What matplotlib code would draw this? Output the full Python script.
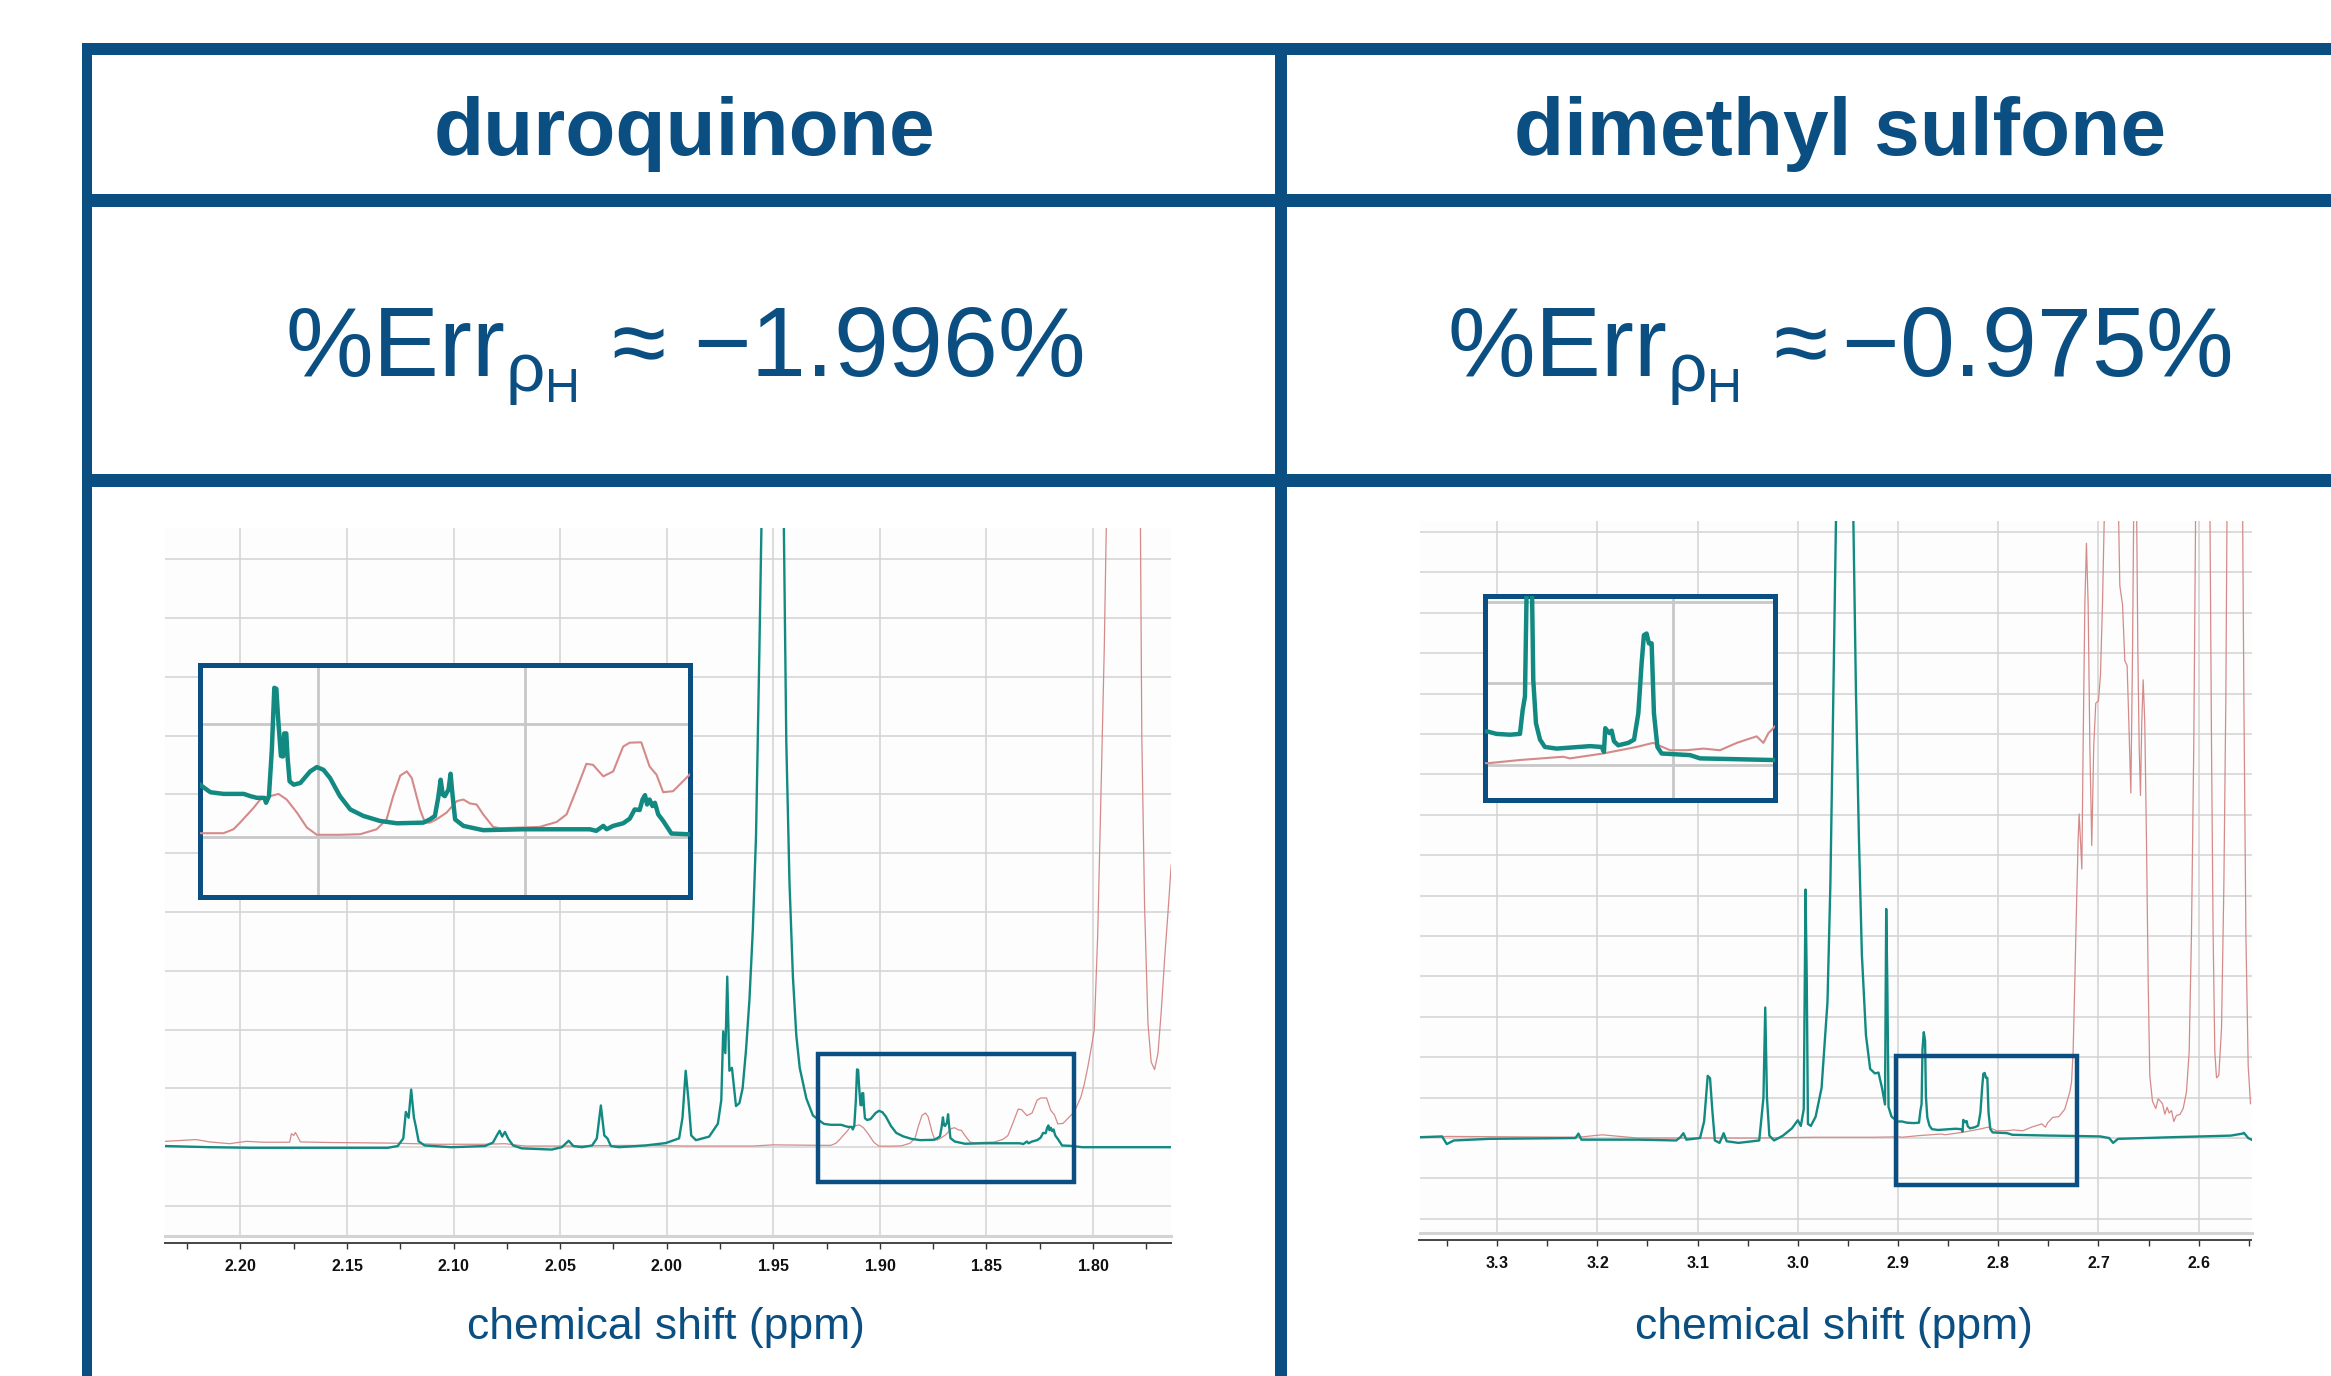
import matplotlib
matplotlib.use('Agg')
import matplotlib.pyplot as plt
from matplotlib.patches import Rectangle
from matplotlib.ticker import MultipleLocator, FormatStrFormatter

# ---------------- data ----------------
titles = ['duroquinone', 'dimethyl sulfone']
errors = [r'%Err$_{\rho_{\mathrm{H}}}$ ≈ −1.996%', r'%Err$_{\rho_{\mathrm{H}}}$ ≈$\,$−0.975%']
xlabel = 'chemical shift (ppm)'

# duroquinone panel: teal = sample spectrum, red = reference spectrum
duro_teal_ppm = [2.2354, 2.2141, 2.1953, 2.1309, 2.1262, 2.1236, 2.1224, 2.1211, 2.1199, 2.1186,
                 2.1177, 2.1164, 2.1136, 2.1010, 2.0853, 2.0815, 2.0797, 2.0784, 2.0772, 2.0759,
                 2.0743, 2.0721, 2.0680, 2.0539, 2.0492, 2.0460, 2.0438, 2.0398, 2.0350, 2.0328,
                 2.0309, 2.0293, 2.0278, 2.0262, 2.0225, 2.0099, 2.0005, 1.9942, 1.9926, 1.9911,
                 1.9898, 1.9885, 1.9863, 1.9801, 1.9760, 1.9744, 1.9735, 1.9725, 1.9716, 1.9706,
                 1.9694, 1.9675, 1.9659, 1.9644, 1.9628, 1.9612, 1.9596, 1.9581, 1.9565, 1.9549,
                 1.9502, 1.9455, 1.9439, 1.9424, 1.9408, 1.9392, 1.9376, 1.9345, 1.9314,
                 1.9282, 1.9262, 1.9230, 1.9181, 1.9165, 1.9149, 1.9131, 1.9127, 1.9120, 1.9113,
                 1.9107, 1.9102, 1.9098, 1.9091, 1.9086, 1.9083, 1.9078, 1.9075, 1.9070, 1.9060,
                 1.9044, 1.9020, 1.9004, 1.8988, 1.8972, 1.8948, 1.8923, 1.8891, 1.8851, 1.8810,
                 1.8746, 1.8730, 1.8718, 1.8710, 1.8704, 1.8699, 1.8694, 1.8685, 1.8680, 1.8675,
                 1.8669, 1.8649, 1.8601, 1.8504, 1.8343, 1.8327, 1.8310, 1.8302, 1.8286, 1.8262,
                 1.8246, 1.8234, 1.8222, 1.8215, 1.8209, 1.8204, 1.8198, 1.8191, 1.8185, 1.8177,
                 1.8165, 1.8145, 1.8105, 1.8050, 1.7634]
duro_teal_int = [0.02, 0.0, -0.01, -0.01, 0.02, 0.15, 0.60, 0.50, 0.98, 0.50,
                 0.35, 0.10, 0.03, 0.0, 0.02, 0.08, 0.20, 0.28, 0.18, 0.26,
                 0.14, 0.03, -0.02, -0.04, 0.0, 0.11, 0.02, 0.0, 0.03, 0.15,
                 0.71, 0.20, 0.15, 0.02, 0.0, 0.03, 0.07, 0.15, 0.50, 1.30,
                 0.80, 0.20, 0.12, 0.18, 0.40, 0.80, 1.97, 1.60, 2.90, 1.30,
                 1.35, 0.70, 0.75, 1.0, 1.65, 2.5, 3.7, 5.3, 8.5, 12.0,
                 45.0, 12.0, 6.9, 4.5, 2.9, 1.9, 1.35, 0.83, 0.54,
                 0.449, 0.396, 0.381, 0.381, 0.361, 0.346, 0.346, 0.302, 0.361, 0.771,
                 1.323, 1.314, 1.065, 0.718, 0.713, 0.918, 0.918, 0.713, 0.493, 0.463,
                 0.478, 0.581, 0.619, 0.595, 0.522, 0.361, 0.243, 0.185, 0.141, 0.120,
                 0.126, 0.155, 0.185, 0.346, 0.507, 0.375, 0.361, 0.419, 0.560, 0.361,
                 0.155, 0.097, 0.059, 0.067, 0.067, 0.053, 0.097, 0.067, 0.097, 0.120,
                 0.161, 0.243, 0.238, 0.331, 0.370, 0.287, 0.331, 0.273, 0.302, 0.199,
                 0.141, 0.029, 0.023, 0.0, 0.0]
duro_red_ppm = [2.2351, 2.2207, 2.2145, 2.2051, 2.1972, 2.1894, 2.1769, 2.1761, 2.1750, 2.1742,
                2.1733, 2.1719, 2.1581, 2.1300, 2.1073, 2.0853, 2.0759, 2.0665, 2.0476, 2.0225,
                2.0068, 1.9911, 1.9596, 1.9502, 1.9282, 1.9230, 1.9206, 1.9190, 1.9173, 1.9157,
                1.9141, 1.9117, 1.9097, 1.9077, 1.9052, 1.9028, 1.9004, 1.8948, 1.8899, 1.8859,
                1.8835, 1.8819, 1.8802, 1.8786, 1.8774, 1.8754, 1.8742, 1.8730, 1.8714, 1.8690,
                1.8665, 1.8649, 1.8633, 1.8617, 1.8601, 1.8577, 1.8560, 1.8464, 1.8423, 1.8399,
                1.8375, 1.8351, 1.8335, 1.8310, 1.8286, 1.8262, 1.8246, 1.8218, 1.8198, 1.8181,
                1.8165, 1.8141, 1.8105, 1.8088, 1.8057, 1.8041, 1.8025, 1.8010, 1.7994, 1.7978,
                1.7962, 1.7947, 1.7931, 1.7855, 1.7780, 1.7771, 1.7758, 1.7742, 1.7727, 1.7711,
                1.7695, 1.7680, 1.7664, 1.7648, 1.7633]
duro_red_int = [0.10, 0.13, 0.09, 0.06, 0.10, 0.085, 0.085, 0.23, 0.20, 0.25,
                0.19, 0.09, 0.08, 0.07, 0.05, 0.05, 0.06, 0.02, 0.02, 0.03,
                0.03, 0.02, 0.02, 0.04, 0.032, 0.032, 0.067, 0.126, 0.194, 0.258,
                0.331, 0.361, 0.381, 0.331, 0.214, 0.082, 0.018, 0.018, 0.023, 0.067,
                0.155, 0.361, 0.543, 0.581, 0.522, 0.243, 0.126, 0.126, 0.155, 0.214,
                0.317, 0.331, 0.296, 0.287, 0.199, 0.088, 0.076, 0.088, 0.132, 0.199,
                0.419, 0.648, 0.639, 0.537, 0.581, 0.801, 0.836, 0.839, 0.625, 0.551,
                0.396, 0.405, 0.537, 0.60, 0.85, 1.07, 1.35, 1.65, 2.0, 3.6,
                6.1, 8.5, 12.0, 40.0, 12.0, 7.0, 4.1, 2.1, 1.45, 1.32,
                1.6, 2.3, 3.2, 4.0, 4.8]

# dimethyl sulfone panel
dms_teal_ppm = [3.3775, 3.3550, 3.3503, 3.3432, 3.3077, 3.2219, 3.2189, 3.2160, 3.1598, 3.1213,
                3.1172, 3.1142, 3.1112, 3.0976, 3.0935, 3.0899, 3.0876, 3.0852, 3.0828, 3.0781,
                3.0740, 3.0710, 3.0592, 3.0385, 3.0343, 3.0325, 3.0308, 3.0284, 3.0237, 3.0148,
                3.0059, 3.0000, 2.9970, 2.9941, 2.9923, 2.9911, 2.9899, 2.9870, 2.9822, 2.9763,
                2.9704, 2.9675, 2.9645, 2.9615, 2.9527, 2.9450, 2.9420, 2.9391, 2.9361, 2.9320,
                2.9278, 2.9231, 2.9195, 2.9160, 2.9130, 2.9118, 2.9107, 2.9095, 2.9065, 2.9006,
                2.8960, 2.8912, 2.8843, 2.8791, 2.8777, 2.8765, 2.8756, 2.8743, 2.8730, 2.8722,
                2.8708, 2.8687, 2.8662, 2.8601, 2.8428, 2.8368, 2.8356, 2.8349, 2.8339, 2.8328,
                2.8316, 2.8304, 2.8282, 2.8230, 2.8200, 2.8178, 2.8161, 2.8149, 2.8135, 2.8123,
                2.8109, 2.8097, 2.8079, 2.8057, 2.7910, 2.7858, 2.7668, 2.7482, 2.7456, 2.6982,
                2.6893, 2.6854, 2.6805, 2.6272, 2.5680, 2.5562, 2.5549, 2.5506, 2.5473]
dms_teal_int = [0.02, 0.04, -0.15, -0.06, -0.02, 0.0, 0.11, -0.04, -0.04, -0.06,
                0.02, 0.12, -0.04, 0.0, 0.41, 1.54, 1.48, 0.65, -0.06, -0.12,
                0.12, -0.08, -0.12, -0.06, 1.0, 3.23, 1.0, 0.06, -0.06, 0.06,
                0.24, 0.44, 0.30, 0.71, 6.15, 3.96, 0.35, 0.30, 0.53, 1.24,
                3.37, 6.3, 11.05, 16.0, 80.0, 16.0, 11.05, 7.5, 4.55, 2.54,
                1.71, 1.60, 1.62, 1.24, 0.83, 5.67, 3.84, 0.77, 0.53, 0.41,
                0.41, 0.38, 0.37, 0.38, 0.67, 0.84, 2.20, 2.62, 2.40, 1.04,
                0.51, 0.31, 0.22, 0.20, 0.23, 0.22, 0.16, 0.45, 0.42, 0.39,
                0.42, 0.29, 0.24, 0.27, 0.31, 0.63, 1.24, 1.59, 1.61, 1.49,
                1.49, 0.63, 0.22, 0.14, 0.12, 0.08, 0.07, 0.06, 0.06, 0.04,
                0.0, -0.12, -0.02, 0.02, 0.06, 0.11, 0.13, 0.0, -0.04]
dms_red_ppm = [3.3775, 3.3491, 3.2189, 3.1953, 3.1598, 3.1006, 3.0414, 2.9822, 2.9231, 2.8994,
               2.8960, 2.8791, 2.8567, 2.8532, 2.8360, 2.8187, 2.8101, 2.8014, 2.7928, 2.7841,
               2.7755, 2.7668, 2.7617, 2.7565, 2.7530, 2.7504, 2.7487, 2.7456, 2.7396, 2.7337,
               2.7286, 2.7269, 2.7253, 2.7236, 2.7220, 2.7203, 2.7193, 2.7180, 2.7166, 2.7153,
               2.7136, 2.7120, 2.7103, 2.7086, 2.7067, 2.7047, 2.7027, 2.7000, 2.6980, 2.6960,
               2.6937, 2.6870, 2.6804, 2.6787, 2.6760, 2.6737, 2.6714, 2.6697, 2.6677, 2.6660,
               2.6647, 2.6634, 2.6621, 2.6607, 2.6594, 2.6581, 2.6568, 2.6554, 2.6538, 2.6521,
               2.6504, 2.6488, 2.6461, 2.6428, 2.6405, 2.6381, 2.6361, 2.6338, 2.6315, 2.6295,
               2.6271, 2.6248, 2.6222, 2.6188, 2.6155, 2.6122, 2.6095, 2.6072, 2.6049, 2.6029,
               2.5955, 2.5889, 2.5872, 2.5856, 2.5839, 2.5822, 2.5799, 2.5772, 2.5749, 2.5729,
               2.5716, 2.5639, 2.5563, 2.5549, 2.5529, 2.5506, 2.5483]
dms_red_int = [0.02, 0.04, 0.02, 0.08, 0.0, 0.0, 0.0, 0.02, 0.02, 0.03,
               0.02, 0.06, 0.10, 0.08, 0.14, 0.22, 0.27, 0.18, 0.18, 0.20,
               0.18, 0.27, 0.31, 0.35, 0.27, 0.39, 0.43, 0.51, 0.53, 0.71,
               1.14, 1.38, 2.13, 3.88, 5.63, 7.38, 8.02, 7.38, 6.66, 9.71,
               13.2, 14.72, 13.2, 9.71, 7.24, 9.71, 10.76, 10.82, 11.46, 13.2,
               16.0, 40.0, 16.0, 13.67, 13.2, 11.81, 11.69, 10.29, 8.54, 12.04,
               16.0, 30.0, 16.0, 12.04, 9.71, 8.48, 10.29, 11.34, 10.29, 7.38,
               3.88, 1.55, 0.91, 0.73, 0.97, 0.91, 0.85, 0.59, 0.76, 0.62,
               0.68, 0.41, 0.56, 0.58, 0.73, 1.14, 2.13, 5.05, 9.71, 16.0,
               40.0, 16.0, 9.71, 5.05, 2.13, 1.49, 1.55, 2.72, 6.21, 10.87,
               16.0, 40.0, 16.0, 10.87, 5.05, 1.78, 0.85]

# axis ranges, ticks, zoom windows
duro_xlim, duro_ylim = (2.2354, 1.7634), (-1.51, 10.53)
dms_xlim, dms_ylim = (3.3775, 2.5473), (-2.35, 15.27)
duro_ticks = (0.05, 0.025, r'$\mathbf{%.2f}$')
dms_ticks = (0.1, 0.05, r'$\mathbf{%.1f}$')
duro_box = (1.929, 1.809, -0.60, 1.59)
dms_box = (2.9017, 2.7213, -1.16, 2.03)
duro_inset_lim = ((1.9287, 1.8100), (-0.53, 1.53))
dms_inset_lim = ((2.8972, 2.7470), (-0.43, 2.07))
duro_inset_grid = ([1.90, 1.85], [0, 1])
dms_inset_grid = ([2.8], [0, 1, 2])

# ---------------- style ----------------
plt.rcParams['font.family'] = ['Liberation Sans', 'DejaVu Sans']
plt.rcParams['mathtext.fontset'] = 'custom'
plt.rcParams['mathtext.rm'] = 'Liberation Sans'
plt.rcParams['mathtext.it'] = 'Liberation Sans:italic'
plt.rcParams['mathtext.bf'] = 'Liberation Sans:bold'
plt.rcParams['mathtext.default'] = 'rm'

BLUE = '#0b4f82'
TEAL = '#128a82'
RED = '#d58a8a'
GRID = '#d3d3d3'

W, H = 2331, 1376
fig = plt.figure(figsize=(W / 100, H / 100), dpi=100)


def rect(x0, y0, x1, y1):
    # pixel box (origin top-left) -> figure fraction [l, b, w, h]
    return [x0 / W, 1 - y1 / H, (x1 - x0) / W, (y1 - y0) / H]


def bar(x0, y0, x1, y1):
    l, b, w, h = rect(x0, y0, x1, y1)
    fig.add_artist(Rectangle((l, b), w, h, transform=fig.transFigure,
                             color=BLUE, lw=0, zorder=10))


# table frame
bar(82, 43, W, 55)
bar(82, 194, W, 207)
bar(82, 474, W, 487)
bar(82, 43, 92, H)
bar(1275, 43, 1287, H)


def panel(pos, t_ppm, t_int, r_ppm, r_int, xlim, ylim, ticks, zbox):
    ax = fig.add_axes(pos)
    ax.set_facecolor('#fdfdfd')
    ax.plot(r_ppm, r_int, color=RED, lw=0.9, zorder=3)
    ax.plot(t_ppm, t_int, color=TEAL, lw=1.7, zorder=4)
    ax.set_xlim(xlim)
    ax.set_ylim(ylim)
    major, minor, fmt = ticks
    ax.xaxis.set_major_locator(MultipleLocator(major))
    ax.xaxis.set_minor_locator(MultipleLocator(minor))
    ax.xaxis.set_major_formatter(FormatStrFormatter(fmt))
    ax.yaxis.set_major_locator(MultipleLocator(1))
    ax.tick_params(axis='y', length=0, labelleft=False)
    ax.tick_params(axis='x', which='both', direction='out', length=4.5, width=1,
                   color='#333333', pad=6, labelsize=11.5, labelcolor='#111111')
    ax.grid(True, color=GRID, lw=1.1)
    ax.set_axisbelow(True)
    for s in ['top', 'left', 'right']:
        ax.spines[s].set_visible(False)
    ax.spines['bottom'].set_position(('outward', 5))
    ax.spines['bottom'].set_color('#444444')
    ax.spines['bottom'].set_linewidth(1.4)
    ax.axhline(ylim[0], color=GRID, lw=2.2, clip_on=False, zorder=1)
    x0, x1, y0, y1 = zbox
    ax.add_patch(Rectangle((min(x0, x1), y0), abs(x1 - x0), y1 - y0, fill=False,
                           ec=BLUE, lw=3.2, zorder=6))
    return ax


def inset(pos, t_ppm, t_int, r_ppm, r_int, lims, grid):
    ax = fig.add_axes(pos)
    ax.set_facecolor('#fdfdfd')
    ax.plot(r_ppm, r_int, color=RED, lw=1.5, zorder=3)
    ax.plot(t_ppm, t_int, color=TEAL, lw=3.2, zorder=4)
    ax.set_xlim(lims[0])
    ax.set_ylim(lims[1])
    ax.set_xticks(grid[0])
    ax.set_yticks(grid[1])
    ax.tick_params(length=0, labelbottom=False, labelleft=False)
    ax.grid(True, color='#c8c8c8', lw=2.0)
    ax.set_axisbelow(True)
    for s in ax.spines.values():
        s.set_color(BLUE)
        s.set_linewidth(3.6)
    return ax


panel(rect(165, 528, 1171, 1236), duro_teal_ppm, duro_teal_int, duro_red_ppm, duro_red_int,
      duro_xlim, duro_ylim, duro_ticks, duro_box)
panel(rect(1419.5, 521, 2251.5, 1233), dms_teal_ppm, dms_teal_int, dms_red_ppm, dms_red_int,
      dms_xlim, dms_ylim, dms_ticks, dms_box)
inset(rect(200, 664.5, 690, 896.5), duro_teal_ppm, duro_teal_int, duro_red_ppm, duro_red_int,
      duro_inset_lim, duro_inset_grid)
inset(rect(1485, 596, 1775, 800), dms_teal_ppm, dms_teal_int, dms_red_ppm, dms_red_int,
      dms_inset_lim, dms_inset_grid)

# header texts
for cx, title, err, lx in zip([684, 1840], titles, errors, [666, 1834]):
    fig.text(cx / W, 1 - 155 / H, title, ha='center', va='baseline', color=BLUE,
             fontsize=59, fontweight='bold')
    fig.text(cx / W, 1 - 376 / H, err, ha='center', va='baseline', color=BLUE, fontsize=71)
    fig.text(lx / W, 1 - 1339 / H, xlabel, ha='center', va='baseline', color=BLUE, fontsize=32)

fig.savefig('out.png', dpi=100, facecolor='white')
